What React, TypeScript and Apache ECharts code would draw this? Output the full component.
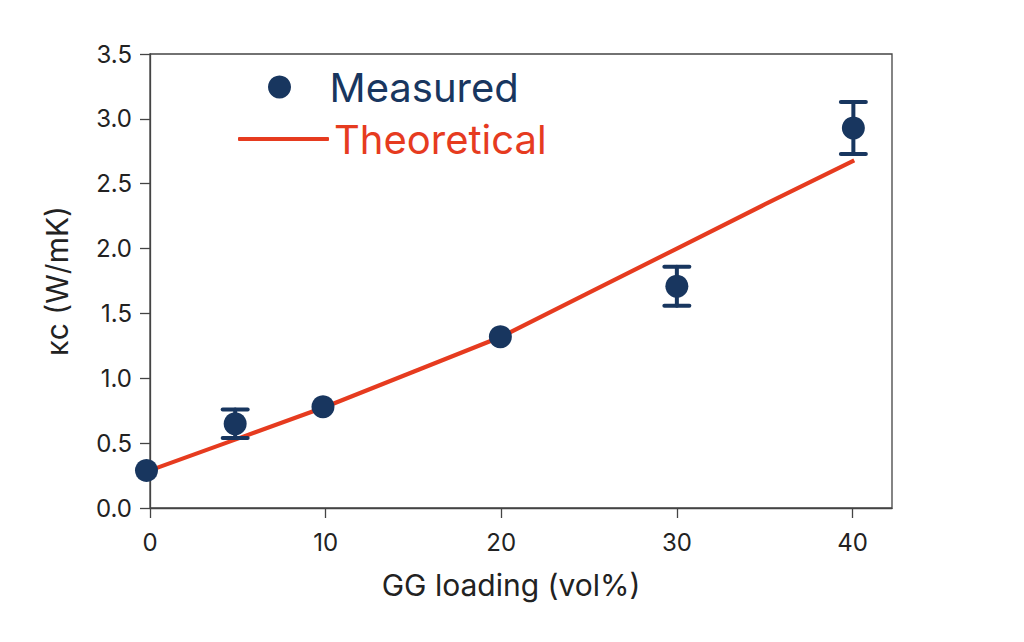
import { useEffect, useRef } from "react";
import * as echarts from "echarts";

// measured thermal conductivity (x = GG loading vol%, y = kc W/mK)
const measuredX = [-0.2, 4.85, 9.85, 19.95, 30.0, 40.05];
const measuredY = [0.29, 0.65, 0.78, 1.32, 1.71, 2.93];
const measuredErr = [0, 0.11, 0, 0, 0.15, 0.2];

// theoretical curve
const theoryX = [0, 5, 10, 15, 20, 25, 30, 35, 40.1];
const theoryY = [0.29, 0.535, 0.78, 1.05, 1.32, 1.66, 2.0, 2.34, 2.68];

const xTicks = [0, 10, 20, 30, 40];

const NAVY = "#18365f";
const RED = "#e63b1f";
const FONT = "Inter";

export default function App() {
  const chartRef = useRef<HTMLDivElement>(null);

  useEffect(() => {
    if (!chartRef.current) return;
    const chart = echarts.init(chartRef.current, null, { renderer: "svg" });

    const errData = measuredX
      .map((x, i) => [x, measuredY[i] - measuredErr[i], measuredY[i] + measuredErr[i]])
      .filter((_, i) => measuredErr[i] > 0);

    const option: echarts.EChartsOption = {
      animation: false,
      textStyle: { fontFamily: FONT },
      grid: {
        left: 150,
        right: 132,
        top: 54,
        bottom: 134,
        show: true,
        borderColor: "#444",
        borderWidth: 1.3,
      },
      legend: [
        {
          data: [{ name: "Measured", icon: "circle" }],
          left: 263,
          top: 62,
          itemWidth: 90,
          itemHeight: 23,
          textStyle: { fontSize: 40, color: NAVY, fontFamily: FONT, lineHeight: 40 },
        },
        {
          data: [{ name: "Theoretical", icon: "roundRect" }],
          left: 233,
          top: 114,
          itemWidth: 91,
          itemHeight: 4,
          itemStyle: { color: RED },
          textStyle: { fontSize: 40, color: RED, fontFamily: FONT, lineHeight: 40 },
        },
      ],
      xAxis: {
        type: "value",
        min: 0,
        max: 42.25,
        interval: 10,
        name: "GG loading (vol%)",
        nameLocation: "middle",
        nameGap: 62,
        nameTextStyle: { fontSize: 30, color: "#222", fontFamily: FONT, padding: [0, 20, 0, 0] },
        axisLine: { show: true, lineStyle: { color: "#444", width: 1.3 } },
        axisTick: { show: true, length: 10, lineStyle: { color: "#444", width: 1.3 }, customValues: xTicks },
        axisLabel: { fontSize: 24, color: "#222", margin: 22, customValues: xTicks },
        splitLine: { show: false },
      },
      yAxis: {
        type: "value",
        min: 0,
        max: 3.5,
        interval: 0.5,
        name: "κc (W/mK)",
        nameLocation: "middle",
        nameGap: 78,
        nameTextStyle: { fontSize: 30, color: "#222", fontFamily: FONT },
        axisLine: { show: true, lineStyle: { color: "#444", width: 1.3 } },
        axisTick: { show: true, length: 10, lineStyle: { color: "#444", width: 1.3 } },
        axisLabel: { fontSize: 24, color: "#222", margin: 18, formatter: (v: number) => v.toFixed(1) },
        splitLine: { show: false },
      },
      series: [
        {
          name: "Theoretical",
          type: "line",
          data: theoryX.map((x, i) => [x, theoryY[i]]),
          symbol: "none",
          lineStyle: { color: RED, width: 4.2 },
          itemStyle: { color: RED },
          z: 2,
        },
        {
          name: "errorbars",
          type: "custom",
          data: errData,
          z: 3,
          clip: false,
          renderItem: (params: any, api: any) => {
            const x = api.value(0);
            const lo = api.coord([x, api.value(1)]);
            const hi = api.coord([x, api.value(2)]);
            const half = 12.5;
            const style = { stroke: NAVY, lineWidth: 4, lineCap: "round" };
            return {
              type: "group",
              children: [
                { type: "line", shape: { x1: lo[0], y1: lo[1], x2: hi[0], y2: hi[1] }, style },
                { type: "line", shape: { x1: hi[0] - half, y1: hi[1], x2: hi[0] + half, y2: hi[1] }, style },
                { type: "line", shape: { x1: lo[0] - half, y1: lo[1], x2: lo[0] + half, y2: lo[1] }, style },
              ],
            };
          },
        },
        {
          name: "Measured",
          type: "scatter",
          data: measuredX.map((x, i) => [x, measuredY[i]]),
          symbol: "circle",
          symbolSize: 23,
          itemStyle: { color: NAVY, opacity: 1 },
          clip: false,
          z: 4,
        },
      ],
    };

    chart.setOption(option);

    return () => {
      chart.dispose();
    };
  }, []);

  return (
    <div
      ref={chartRef}
      style={{ position: "absolute", left: 0, top: 0, width: "1024px", height: "642px", background: "#fff" }}
    />
  );
}
